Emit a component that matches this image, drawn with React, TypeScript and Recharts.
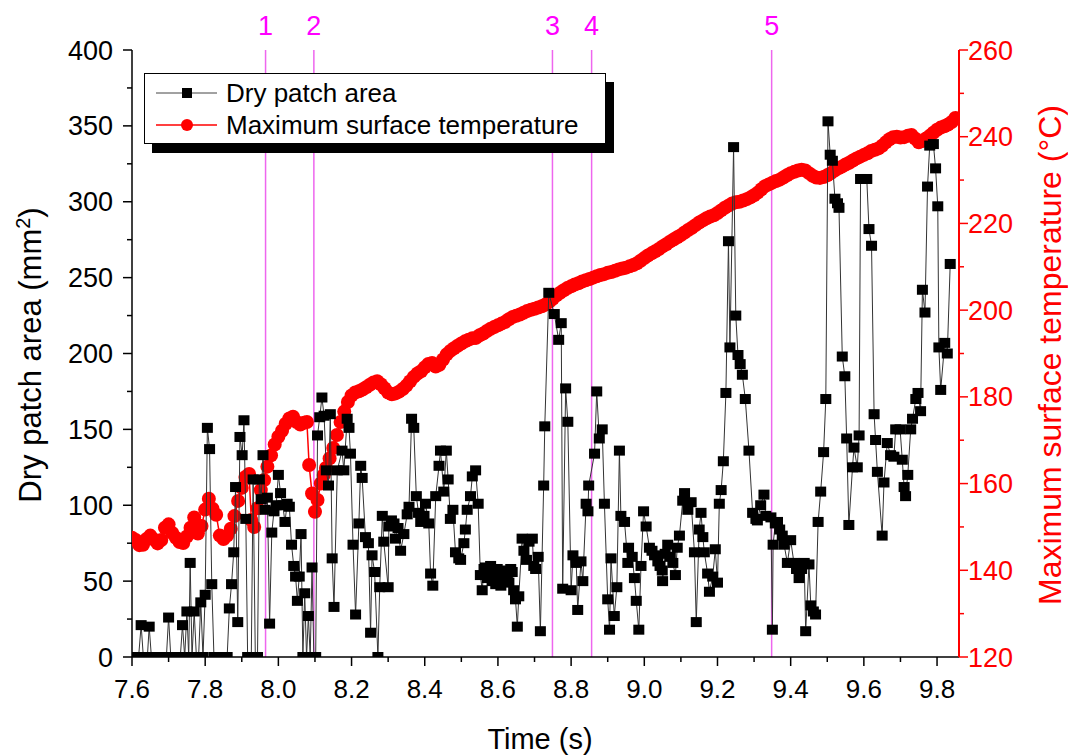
import React from 'react';
import { ScatterChart, Scatter, XAxis, YAxis, ReferenceLine, Legend, Customized } from 'recharts';

const FONT = '"Liberation Sans", Arial, Helvetica, sans-serif';
const RED = '#ff0000';
const MAGENTA = '#ff00ff';

// tick values
const timeTicks = [7.6, 7.7, 7.8, 7.9, 8.0, 8.1, 8.2, 8.3, 8.4, 8.5, 8.6, 8.7, 8.8, 8.9, 9.0, 9.1, 9.2, 9.3, 9.4, 9.5, 9.6, 9.7, 9.8];
const areaTicks = [0, 25, 50, 75, 100, 125, 150, 175, 200, 225, 250, 275, 300, 325, 350, 375, 400];
const tempTicks = [120, 130, 140, 150, 160, 170, 180, 190, 200, 210, 220, 230, 240, 250, 260];

// numbered events (vertical lines)
const eventTimes = [7.965, 8.097, 8.749, 8.856, 9.348];
const eventLabels = ['1', '2', '3', '4', '5'];

// [time (s), dry patch area (mm2)]
const dryPatchArea: [number, number][] = [
  [7.600, 0], [7.606, 0], [7.612, 0], [7.618, 0], [7.625, 21], [7.631, 0], [7.637, 0], [7.642, 0], [7.647, 20], [7.653, 0],
  [7.660, 0], [7.667, 0], [7.674, 0], [7.681, 0], [7.688, 0], [7.694, 0], [7.700, 26], [7.706, 0], [7.713, 0], [7.720, 0],
  [7.727, 0], [7.732, 0], [7.738, 21], [7.744, 0], [7.750, 30], [7.755, 0], [7.759, 62], [7.764, 0], [7.770, 30], [7.776, 0],
  [7.782, 0], [7.788, 36], [7.794, 0], [7.800, 41], [7.806, 151], [7.812, 137], [7.818, 48], [7.824, 0], [7.830, 0], [7.836, 0],
  [7.842, 0], [7.848, 0], [7.854, 0], [7.860, 0], [7.866, 32], [7.872, 48], [7.878, 69], [7.883, 112], [7.889, 23], [7.895, 145],
  [7.901, 133], [7.906, 156], [7.911, 91], [7.916, 0], [7.921, 0], [7.926, 0], [7.931, 117], [7.937, 0], [7.943, 0], [7.948, 117],
  [7.953, 104], [7.958, 133], [7.964, 97], [7.970, 105], [7.976, 22], [7.982, 82], [7.988, 96], [7.994, 100], [8.000, 120], [8.006, 108],
  [8.012, 100], [8.018, 89], [8.024, 101], [8.030, 99], [8.036, 74], [8.042, 60], [8.047, 53], [8.052, 37], [8.057, 53], [8.062, 81],
  [8.067, 0], [8.072, 42], [8.077, 0], [8.082, 27], [8.087, 0], [8.092, 59], [8.097, 0], [8.102, 0], [8.107, 146], [8.113, 158],
  [8.119, 171], [8.125, 159], [8.131, 123], [8.137, 113], [8.142, 160], [8.147, 65], [8.152, 33], [8.161, 123], [8.174, 136], [8.179, 123],
  [8.188, 157], [8.193, 151], [8.197, 134], [8.204, 74], [8.211, 28], [8.220, 88], [8.225, 126], [8.229, 118], [8.238, 79], [8.246, 75],
  [8.252, 16], [8.256, 67], [8.263, 56], [8.272, 0], [8.277, 46], [8.284, 93], [8.288, 76], [8.300, 46], [8.302, 86], [8.309, 90],
  [8.316, 88], [8.320, 78], [8.327, 85], [8.334, 70], [8.343, 81], [8.352, 94], [8.357, 99], [8.364, 157], [8.370, 151], [8.377, 106],
  [8.383, 95], [8.389, 89], [8.398, 93], [8.402, 101], [8.411, 88], [8.416, 55], [8.422, 47], [8.430, 106], [8.439, 126], [8.443, 136],
  [8.452, 109], [8.459, 136], [8.464, 117], [8.470, 91], [8.477, 97], [8.484, 69], [8.493, 65], [8.498, 64], [8.507, 75], [8.511, 84],
  [8.516, 97], [8.525, 106], [8.530, 119], [8.539, 123], [8.546, 101], [8.552, 54], [8.557, 44], [8.562, 58], [8.566, 59], [8.571, 52],
  [8.575, 55], [8.580, 60], [8.584, 50], [8.589, 56], [8.594, 48], [8.598, 58], [8.603, 52], [8.608, 47], [8.612, 52], [8.618, 57],
  [8.625, 53], [8.630, 49], [8.635, 58], [8.639, 56], [8.643, 44], [8.648, 38], [8.653, 20], [8.657, 40], [8.666, 78], [8.671, 70],
  [8.678, 64], [8.685, 76], [8.694, 78], [8.698, 60], [8.703, 58], [8.710, 66], [8.716, 17], [8.725, 113], [8.728, 152], [8.739, 240],
  [8.754, 226], [8.766, 209], [8.773, 220], [8.777, 45], [8.785, 177], [8.791, 155], [8.800, 44], [8.805, 67], [8.814, 62], [8.818, 31],
  [8.827, 63], [8.832, 50], [8.841, 101], [8.846, 96], [8.848, 113], [8.864, 134], [8.870, 175], [8.877, 144], [8.885, 150], [8.891, 101],
  [8.900, 38], [8.905, 18], [8.909, 65], [8.918, 27], [8.925, 46], [8.932, 136], [8.936, 93], [8.946, 89], [8.955, 62], [8.957, 72],
  [8.967, 66], [8.973, 52], [8.978, 37], [8.985, 18], [8.991, 60], [8.998, 96], [9.005, 86], [9.014, 72], [9.021, 70], [9.028, 67],
  [9.037, 63], [9.043, 60], [9.049, 57], [9.050, 50], [9.057, 68], [9.064, 74], [9.071, 66], [9.078, 62], [9.085, 54], [9.090, 72],
  [9.096, 80], [9.105, 103], [9.110, 108], [9.119, 97], [9.128, 102], [9.137, 69], [9.142, 23], [9.150, 84], [9.155, 95], [9.160, 79],
  [9.164, 69], [9.173, 55], [9.178, 43], [9.187, 53], [9.194, 71], [9.200, 49], [9.205, 101], [9.210, 110], [9.216, 129], [9.223, 174],
  [9.230, 274], [9.234, 204], [9.244, 336], [9.250, 225], [9.256, 199], [9.262, 193], [9.268, 186], [9.276, 170], [9.286, 136], [9.296, 95],
  [9.305, 91], [9.309, 90], [9.318, 100], [9.327, 107], [9.332, 93], [9.346, 92], [9.350, 18], [9.352, 74], [9.358, 88], [9.364, 89],
  [9.370, 84], [9.377, 80], [9.382, 74], [9.391, 62], [9.400, 77], [9.409, 62], [9.416, 58], [9.423, 52], [9.430, 58], [9.437, 62],
  [9.441, 17], [9.450, 61], [9.455, 34], [9.462, 30], [9.468, 28], [9.475, 89], [9.482, 109], [9.490, 135], [9.496, 170], [9.502, 353],
  [9.508, 331], [9.514, 327], [9.521, 302], [9.528, 299], [9.532, 296], [9.541, 198], [9.548, 185], [9.553, 144], [9.559, 87], [9.569, 125],
  [9.573, 138], [9.582, 125], [9.587, 146], [9.591, 315], [9.608, 315], [9.614, 282], [9.621, 271], [9.628, 160], [9.632, 143], [9.637, 122],
  [9.650, 80], [9.655, 115], [9.664, 141], [9.673, 133], [9.682, 132], [9.687, 150], [9.699, 150], [9.705, 130], [9.710, 112], [9.714, 106],
  [9.720, 120], [9.728, 150], [9.733, 157], [9.742, 170], [9.748, 174], [9.755, 162], [9.760, 242], [9.767, 227], [9.774, 310], [9.780, 337],
  [9.790, 338], [9.796, 322], [9.802, 297], [9.805, 204], [9.810, 176], [9.821, 207], [9.828, 200], [9.836, 259],
];

// [time (s), maximum surface temperature (C)]
const surfaceTemp: [number, number][] = [
  [7.60, 147.5], [7.61, 147.0], [7.62, 145.8], [7.63, 145.9], [7.64, 147.2], [7.65, 148.0], [7.66, 147.1], [7.67, 146.2], [7.68, 147.0], [7.69, 149.8],
  [7.70, 150.6], [7.71, 148.6], [7.72, 147.5], [7.73, 146.5], [7.74, 146.3], [7.75, 147.8], [7.76, 149.8], [7.77, 152.2], [7.78, 148.5], [7.79, 150.2],
  [7.80, 154.0], [7.81, 156.5], [7.82, 154.2], [7.83, 152.8], [7.84, 148.0], [7.85, 147.2], [7.86, 148.0], [7.87, 149.6], [7.88, 152.5], [7.89, 156.0],
  [7.90, 159.0], [7.91, 161.5], [7.92, 162.2], [7.926, 151.6], [7.934, 150.0], [7.943, 154.3], [7.952, 158.5], [7.961, 160.8], [7.97, 163.9], [7.98, 166.5],
  [7.99, 169.0], [8.00, 170.8], [8.01, 172.2], [8.02, 173.8], [8.03, 175.0], [8.04, 175.4], [8.05, 174.2], [8.06, 173.6], [8.07, 174.0], [8.078, 174.2],
  [8.084, 164.3], [8.092, 157.7], [8.100, 153.5], [8.107, 156.2], [8.116, 160.0], [8.124, 162.0], [8.13, 163.6], [8.14, 165.8], [8.15, 168.2], [8.16, 171.2],
  [8.17, 174.2], [8.18, 176.6], [8.19, 178.8], [8.20, 180.3], [8.21, 181.0], [8.22, 181.3], [8.23, 181.7], [8.24, 182.2], [8.25, 182.8], [8.26, 183.3],
  [8.27, 183.6], [8.28, 182.9], [8.29, 182.0], [8.30, 181.0], [8.31, 180.6], [8.32, 180.8], [8.33, 181.2], [8.34, 181.8], [8.35, 182.6], [8.36, 183.6],
  [8.37, 184.6], [8.38, 185.4], [8.39, 185.9], [8.40, 186.8], [8.41, 187.6], [8.42, 187.8], [8.43, 187.0], [8.44, 187.4], [8.45, 188.6], [8.46, 189.8],
  [8.47, 190.6], [8.48, 191.2], [8.49, 191.8], [8.50, 192.3], [8.51, 192.8], [8.52, 193.2], [8.53, 193.5], [8.54, 193.6], [8.55, 194.2], [8.56, 194.6],
  [8.57, 195.2], [8.58, 195.7], [8.59, 196.1], [8.60, 196.5], [8.61, 196.9], [8.62, 197.3], [8.63, 197.9], [8.64, 198.4], [8.65, 198.7], [8.66, 199.0],
  [8.67, 199.4], [8.68, 199.8], [8.69, 200.1], [8.70, 200.3], [8.71, 200.6], [8.72, 200.9], [8.73, 201.3], [8.74, 201.9], [8.75, 202.6], [8.76, 203.4],
  [8.77, 204.0], [8.78, 204.6], [8.79, 205.1], [8.80, 205.5], [8.81, 205.9], [8.82, 206.2], [8.83, 206.6], [8.84, 206.9], [8.85, 207.2], [8.86, 207.5],
  [8.87, 207.8], [8.88, 208.1], [8.89, 208.3], [8.90, 208.6], [8.91, 208.8], [8.92, 209.1], [8.93, 209.4], [8.94, 209.6], [8.95, 209.8], [8.96, 210.1],
  [8.97, 210.4], [8.98, 210.8], [8.99, 211.4], [9.00, 212.0], [9.01, 212.6], [9.02, 213.1], [9.03, 213.6], [9.04, 214.1], [9.05, 214.7], [9.06, 215.2],
  [9.07, 215.8], [9.08, 216.3], [9.09, 216.8], [9.10, 217.3], [9.11, 217.9], [9.12, 218.5], [9.13, 219.0], [9.14, 219.6], [9.15, 220.2], [9.16, 220.7],
  [9.17, 221.2], [9.18, 221.6], [9.19, 221.9], [9.20, 222.4], [9.21, 223.0], [9.22, 223.6], [9.23, 224.1], [9.24, 224.6], [9.25, 224.9], [9.26, 225.0],
  [9.27, 225.3], [9.28, 225.6], [9.29, 226.0], [9.30, 226.5], [9.31, 227.1], [9.32, 227.9], [9.33, 228.6], [9.34, 229.0], [9.35, 229.4], [9.36, 229.8],
  [9.37, 230.1], [9.38, 230.6], [9.39, 231.1], [9.40, 231.6], [9.41, 231.9], [9.42, 232.2], [9.43, 232.4], [9.44, 232.2], [9.45, 231.6], [9.46, 231.0],
  [9.47, 230.6], [9.48, 230.5], [9.49, 230.7], [9.50, 231.1], [9.51, 231.6], [9.52, 232.2], [9.53, 232.7], [9.54, 233.1], [9.55, 233.6], [9.56, 234.0],
  [9.57, 234.5], [9.58, 235.0], [9.59, 235.4], [9.60, 235.8], [9.61, 236.2], [9.62, 236.7], [9.63, 237.0], [9.64, 237.3], [9.65, 237.9], [9.66, 238.7],
  [9.67, 239.4], [9.68, 239.9], [9.69, 240.0], [9.70, 239.8], [9.71, 239.9], [9.72, 240.2], [9.73, 240.4], [9.74, 239.6], [9.75, 238.7], [9.76, 239.0],
  [9.77, 239.6], [9.78, 240.2], [9.79, 240.9], [9.80, 241.6], [9.81, 242.1], [9.82, 242.4], [9.83, 242.8], [9.84, 243.4], [9.85, 244.3],
];

const areaData = dryPatchArea.map(([t, v]) => ({ t, v }));
const tempData = surfaceTemp.map(([t, v]) => ({ t, v }));

const isMajorTime = (v: number) => Math.round(v * 10) % 2 === 0;

const BottomTick = ({ x, y, payload }: any) => {
  const major = isMajorTime(payload.value);
  return (
    <g>
      <line x1={x} x2={x} y1={y} y2={y + (major ? 9 : 5)} stroke="#000" strokeWidth={1.5} />
      {major && (
        <text x={x} y={y + 41} textAnchor="middle" fontSize={26} fontFamily={FONT} fill="#000">
          {payload.value.toFixed(1)}
        </text>
      )}
    </g>
  );
};

const TopTick = ({ x, y, payload }: any) => {
  const major = isMajorTime(payload.value);
  return <line x1={x} x2={x} y1={y} y2={y + (major ? 9 : 5)} stroke="#000" strokeWidth={1.5} />;
};

const LeftTick = ({ x, y, payload }: any) => {
  const major = payload.value % 50 === 0;
  return (
    <g>
      <line x1={x - (major ? 9 : 5)} x2={x} y1={y} y2={y} stroke="#000" strokeWidth={1.5} />
      {major && (
        <text x={x - 19} y={y + 9.5} textAnchor="end" fontSize={27} fontFamily={FONT} fill="#000">
          {payload.value}
        </text>
      )}
    </g>
  );
};

const RightTick = ({ x, y, payload }: any) => {
  const major = payload.value % 20 === 0;
  return (
    <g>
      <line x1={x} x2={x + (major ? 9 : 5)} y1={y} y2={y} stroke={RED} strokeWidth={1.5} />
      {major && (
        <text x={x + 9} y={y + 9.5} textAnchor="start" fontSize={27} fontFamily={FONT} fill={RED}>
          {payload.value}
        </text>
      )}
    </g>
  );
};

const SquareDot = ({ cx, cy }: any) => <rect x={cx - 5.5} y={cy - 5} width={11} height={10} fill="#000" />;
const RoundDot = ({ cx, cy }: any) => <circle cx={cx} cy={cy} r={7} fill={RED} />;

const LegendBox = () => (
  <svg width={472} height={82} style={{ display: 'block' }}>
    <rect x={8} y={9} width={462} height={71} fill="#000" />
    <rect x={0.5} y={0.5} width={461} height={70} fill="#fff" stroke="#000" strokeWidth={1} />
    <line x1={12} x2={73} y1={20} y2={20} stroke="#444" strokeWidth={1} />
    <rect x={38} y={15} width={10} height={10} fill="#000" />
    <text x={82} y={29} fontSize={26} fontFamily={FONT} fill="#000">Dry patch area</text>
    <line x1={12} x2={73} y1={52} y2={52} stroke={RED} strokeWidth={1.5} />
    <circle cx={43} cy={52} r={6} fill={RED} />
    <text x={82} y={61} fontSize={26} fontFamily={FONT} fill="#000">Maximum surface temperature</text>
  </svg>
);

const Titles = () => (
  <g fontFamily={FONT}>
    <text x={540} y={749} textAnchor="middle" fontSize={29} fill="#000">Time (s)</text>
    <text x={41} y={355} textAnchor="middle" fontSize={31} fill="#000" transform="rotate(-90, 41, 355)">
      Dry patch area (mm<tspan dy={-11} fontSize={20}>2</tspan><tspan dy={11}>)</tspan>
    </text>
    <text x={1061} y={355} textAnchor="middle" fontSize={32} fill={RED} transform="rotate(-90, 1061, 355)">
      Maximum surface temperature (°C)
    </text>
  </g>
);

export default function App() {
  return (
    <div style={{ position: 'absolute', left: 0, top: 0, background: '#fff', fontFamily: FONT }}>
      <ScatterChart width={1068} height={755} margin={{ top: 50, right: 0, bottom: 0, left: 0 }}>
        <XAxis
          xAxisId="bottom"
          type="number"
          dataKey="t"
          domain={[7.6, 9.86]}
          ticks={timeTicks}
          interval={0}
          height={98}
          tickSize={0}
          tickMargin={0}
          tick={(p: any) => <BottomTick {...p} />}
          axisLine={{ stroke: '#000', strokeWidth: 1.5 }}
          allowDataOverflow
        />
        <XAxis
          xAxisId="top"
          orientation="top"
          type="number"
          dataKey="t"
          domain={[7.6, 9.86]}
          ticks={timeTicks}
          interval={0}
          height={0}
          tickSize={0}
          tickMargin={0}
          tick={(p: any) => <TopTick {...p} />}
          axisLine={{ stroke: '#000', strokeWidth: 1.5 }}
          allowDataOverflow
        />
        <YAxis
          yAxisId="left"
          type="number"
          dataKey="v"
          domain={[0, 400]}
          ticks={areaTicks}
          interval={0}
          width={132}
          tickSize={0}
          tickMargin={0}
          tick={(p: any) => <LeftTick {...p} />}
          axisLine={{ stroke: '#000', strokeWidth: 1.5 }}
          allowDataOverflow
        />
        <YAxis
          yAxisId="right"
          orientation="right"
          type="number"
          dataKey="v"
          domain={[120, 260]}
          ticks={tempTicks}
          interval={0}
          width={109}
          tickSize={0}
          tickMargin={0}
          tick={(p: any) => <RightTick {...p} />}
          axisLine={{ stroke: RED, strokeWidth: 2 }}
          allowDataOverflow
        />
        {eventTimes.map((t, i) => (
          <ReferenceLine
            key={eventLabels[i]}
            x={t}
            xAxisId="bottom"
            yAxisId="left"
            stroke="#ee66ee"
            strokeWidth={1.5}
            label={{ value: eventLabels[i], position: 'top', offset: 15, fill: MAGENTA, fontSize: 27, fontFamily: FONT }}
          />
        ))}
        <Scatter
          name="Maximum surface temperature"
          data={tempData}
          xAxisId="bottom"
          yAxisId="right"
          line={{ stroke: RED, strokeWidth: 1.5 }}
          shape={(p: any) => <RoundDot {...p} />}
          isAnimationActive={false}
        />
        <Scatter
          name="Dry patch area"
          data={areaData}
          xAxisId="bottom"
          yAxisId="left"
          line={{ stroke: '#333', strokeWidth: 1 }}
          shape={(p: any) => <SquareDot {...p} />}
          isAnimationActive={false}
        />
        <Legend
          layout="vertical"
          verticalAlign="middle"
          align="center"
          content={() => <LegendBox />}
          wrapperStyle={{ position: 'absolute', left: 144, top: 73, width: 472, height: 82 }}
        />
        <Customized component={() => <Titles />} />
      </ScatterChart>
    </div>
  );
}
